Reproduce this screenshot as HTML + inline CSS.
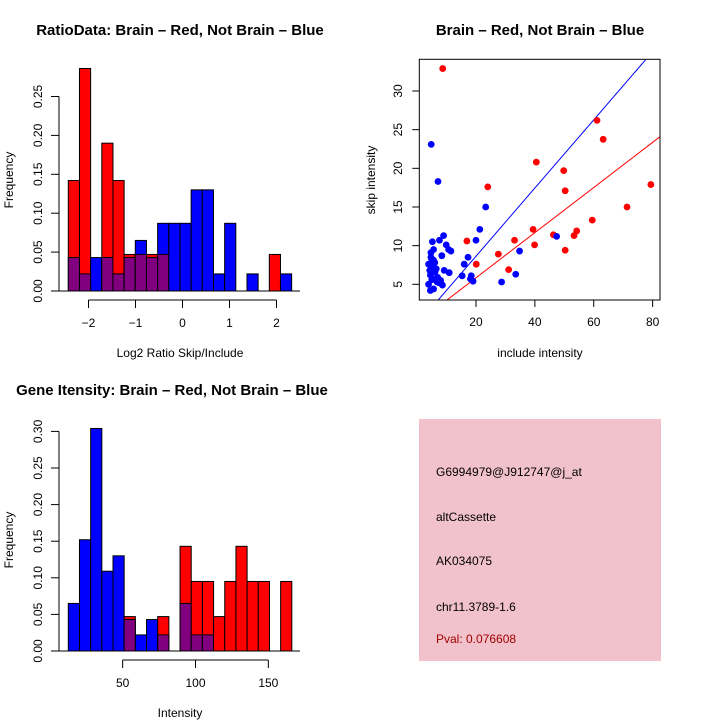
<!DOCTYPE html>
<html><head><meta charset="utf-8"><style>
body{margin:0;background:#fff}
svg{display:block;font-family:"Liberation Sans",sans-serif}
</style></head><body>
<svg id="s" width="720" height="720" viewBox="0 0 720 720">
<text x="180" y="35" text-anchor="middle" font-size="15" font-weight="bold">RatioData: Brain – Red, Not Brain – Blue</text>
<text x="540" y="35" text-anchor="middle" font-size="15" font-weight="bold">Brain – Red, Not Brain – Blue</text>
<text x="172" y="395" text-anchor="middle" font-size="15" font-weight="bold">Gene Itensity: Brain – Red, Not Brain – Blue</text>
<text x="180" y="357" text-anchor="middle" font-size="12">Log2 Ratio Skip/Include</text>
<text x="540" y="357" text-anchor="middle" font-size="12">include intensity</text>
<text x="180" y="717" text-anchor="middle" font-size="12">Intensity</text>
<text transform="translate(13,180) rotate(-90)" text-anchor="middle" font-size="12">Frequency</text>
<text transform="translate(375,180) rotate(-90)" text-anchor="middle" font-size="12">skip intensity</text>
<text transform="translate(13,540) rotate(-90)" text-anchor="middle" font-size="12">Frequency</text>
<rect x="419" y="419" width="242" height="242" fill="#f2c2cc"/>
<g font-size="12">
<text x="436" y="476">G6994979@J912747@j_at</text>
<text x="436" y="521">altCassette</text>
<text x="436" y="565">AK034075</text>
<text x="436" y="611">chr11.3789-1.6</text>
<text x="436" y="643" fill="#a00000">Pval: 0.076608</text>
</g>
<g id="g1"></g><g id="g2"></g><g id="g3"></g>
</svg>
<script>
// Ratio histogram data
const ratioStart = -2.43, ratioBin = 0.2376;
const ratioRed = [0.142,0.286,0,0.190,0.142,0.047,0.047,0.047,0.047,0,0,0,0,0,0,0,0,0,0.047,0];
const ratioBlue = [0.043,0.022,0.043,0.043,0.022,0.043,0.065,0.043,0.087,0.087,0.087,0.130,0.130,0.022,0.087,0,0.022,0,0,0.022];
const ratioXTicks = [-2,-1,0,1,2];
const ratioYTicks = [0,0.05,0.10,0.15,0.20,0.25];
const ratioYLabels = ["0.00","0.05","0.10","0.15","0.20","0.25"];
// Intensity histogram data
const intStart = 12.7, intBin = 7.67;
const intRed = [0,0,0,0,0,0.047,0,0,0.047,0,0.143,0.095,0.095,0.047,0.095,0.143,0.095,0.095,0,0.095];
const intBlue = [0.065,0.152,0.304,0.109,0.130,0.043,0.022,0.043,0.022,0,0.065,0.022,0.022,0,0,0,0,0,0,0];
const intXTicks = [50,100,150];
const intYTicks = [0,0.05,0.10,0.15,0.20,0.25,0.30];
const intYLabels = ["0.00","0.05","0.10","0.15","0.20","0.25","0.30"];
// Scatter data
const redX = [8.7,61.1,63.2,40.5,49.8,50.3,24.0,79.4,71.3,59.5,54.2,53.3,46.3,39.4,39.9,33.1,16.9,27.6,20.1,31.1,50.3];
const redY = [32.9,26.2,23.75,20.8,19.7,17.1,17.6,17.9,15.0,13.3,11.9,11.3,11.4,12.1,10.1,10.7,10.6,8.9,7.6,6.9,9.4];
const blueX = [4.8,7.1,23.3,21.3,20.0,9.0,7.6,5.2,9.9,10.7,11.5,17.3,8.4,4.7,4.9,3.9,6.0,16.0,9.2,10.9,6.1,4.5,15.3,18.4,6.0,8.0,6.8,18.1,19.0,3.9,8.6,4.5,5.6,28.7,33.5,34.8,47.4,4.7,5.4,5.0,6.5,5.6,4.3,7.0,5.6,7.4];
const blueY = [23.1,18.3,15.0,12.1,10.7,11.3,10.7,10.5,10.1,9.5,9.3,8.5,8.7,9.1,8.3,7.6,7.8,7.6,6.8,6.5,6.6,6.2,6.1,6.1,5.7,5.5,5.3,5.7,5.4,5.0,4.9,4.2,4.4,5.3,6.3,9.3,11.2,8.5,7.2,5.6,7.0,9.5,6.8,5.9,8.1,5.2];
const fitBlue = [0.441,-0.19];
const fitRed = [0.292,0];
const scXTicks = [20,40,60,80];
const scYTicks = [5,10,15,20,25,30];

const NS="http://www.w3.org/2000/svg";
function mk(p,t,a){const e=document.createElementNS(NS,t);for(const k in a)e.setAttribute(k,a[k]);p.appendChild(e);return e;}

function hist(g,start,bin,red,blue,xs,ys,xtl,ytl,yl,y0,pxPerY,xOrigin,pxPerX,lo,hi,nameP){
  const X=v=>xOrigin+(v-start)*pxPerX, Y=v=>y0-v*pxPerY;
  for(let i=0;i<red.length;i++){
    const r=red[i],b=blue[i],mx=Math.max(r,b),mn=Math.min(r,b);
    if(mx<=0)continue;
    const x1=X(start+i*bin),x2=X(start+(i+1)*bin);
    const big=mk(g,'rect',{x:x1,y:Y(mx),width:x2-x1,height:Y(0)-Y(mx),fill:r>b?'#ff0000':'#0000ff',stroke:'#000','stroke-width':1});
    
    
    if(mn>0){const o=mk(g,'rect',{x:x1,y:Y(mn),width:x2-x1,height:Y(0)-Y(mn),fill:'#800080',stroke:'#000','stroke-width':1});
      
      }
  }
  const yAx=mk(g,'g',{});
  
  
  mk(yAx,'line',{x1:59,x2:59,y1:Y(ys[0]),y2:Y(ys[ys.length-1]),stroke:'#000'});
  ys.forEach((v,i)=>{mk(yAx,'line',{x1:51,x2:59,y1:Y(v),y2:Y(v),stroke:'#000'});
    const t=mk(yAx,'text',{transform:`translate(42,${Y(v)}) rotate(-90)`,'text-anchor':'middle','font-size':12});t.textContent=yl[i];});
  mk(g,'line',{x1:59,x2:300,y1:y0,y2:y0,stroke:'#000'});
  const xAx=mk(g,'g',{});
  
  
  const axY=y0+9;
  mk(xAx,'line',{x1:X(xs[0]),x2:X(xs[xs.length-1]),y1:axY,y2:axY,stroke:'#000'});
  xs.forEach(v=>{mk(xAx,'line',{x1:X(v),x2:X(v),y1:axY,y2:axY+8,stroke:'#000'});
    const t=mk(xAx,'text',{x:X(v),y:axY+27,'text-anchor':'middle','font-size':12});t.textContent=String(v).replace('-','\u2212');});
}
hist(document.getElementById('g1'),ratioStart,ratioBin,ratioRed,ratioBlue,ratioXTicks,ratioYTicks,null,null,ratioYLabels,291,778,68.3,47,0,0,'ratio');
hist(document.getElementById('g3'),intStart,intBin,intRed,intBlue,intXTicks,intYTicks,null,null,intYLabels,651,732,68.3,1.457,0,0,'intensity');

// scatter
(function(){
  const g=document.getElementById('g2');
  const x0=0.75,x1=82.5,y0=2.97,y1=34.1,L=419.3,R=660,T=59.3,B=300;
  const X=v=>L+(v-x0)/(x1-x0)*(R-L), Y=v=>B-(v-y0)/(y1-y0)*(B-T);
  const cp=mk(g,'clipPath',{id:'cp'});mk(cp,'rect',{x:L,y:T,width:R-L,height:B-T});
  [[fitBlue,'#0000ff','blue-fit-line'],[fitRed,'#ff0000','red-fit-line']].forEach(([f,c,n])=>{
    const l=mk(g,'line',{x1:X(x0),y1:Y(f[0]*x0+f[1]),x2:X(x1),y2:Y(f[0]*x1+f[1]),stroke:c,'stroke-width':1,'clip-path':'url(#cp)'});
    
    
  });
  redX.forEach((v,i)=>{const c=mk(g,'circle',{cx:X(v),cy:Y(redY[i]),r:3.4,fill:'#ff0000'});
    
    });
  blueX.forEach((v,i)=>{const c=mk(g,'circle',{cx:X(v),cy:Y(blueY[i]),r:3.4,fill:'#0000ff'});
    
    });
  const box=mk(g,'rect',{x:L,y:T,width:R-L,height:B-T,fill:'none',stroke:'#000'});
  
  
  scXTicks.forEach(v=>{mk(g,'line',{x1:X(v),x2:X(v),y1:B,y2:B+7,stroke:'#000'});
    const t=mk(g,'text',{x:X(v),y:B+26,'text-anchor':'middle','font-size':12});t.textContent=v;});
  scYTicks.forEach(v=>{mk(g,'line',{x1:L-7,x2:L,y1:Y(v),y2:Y(v),stroke:'#000'});
    const t=mk(g,'text',{transform:`translate(402,${Y(v)}) rotate(-90)`,'text-anchor':'middle','font-size':12});t.textContent=v;});
})();
</script>
</body></html>
